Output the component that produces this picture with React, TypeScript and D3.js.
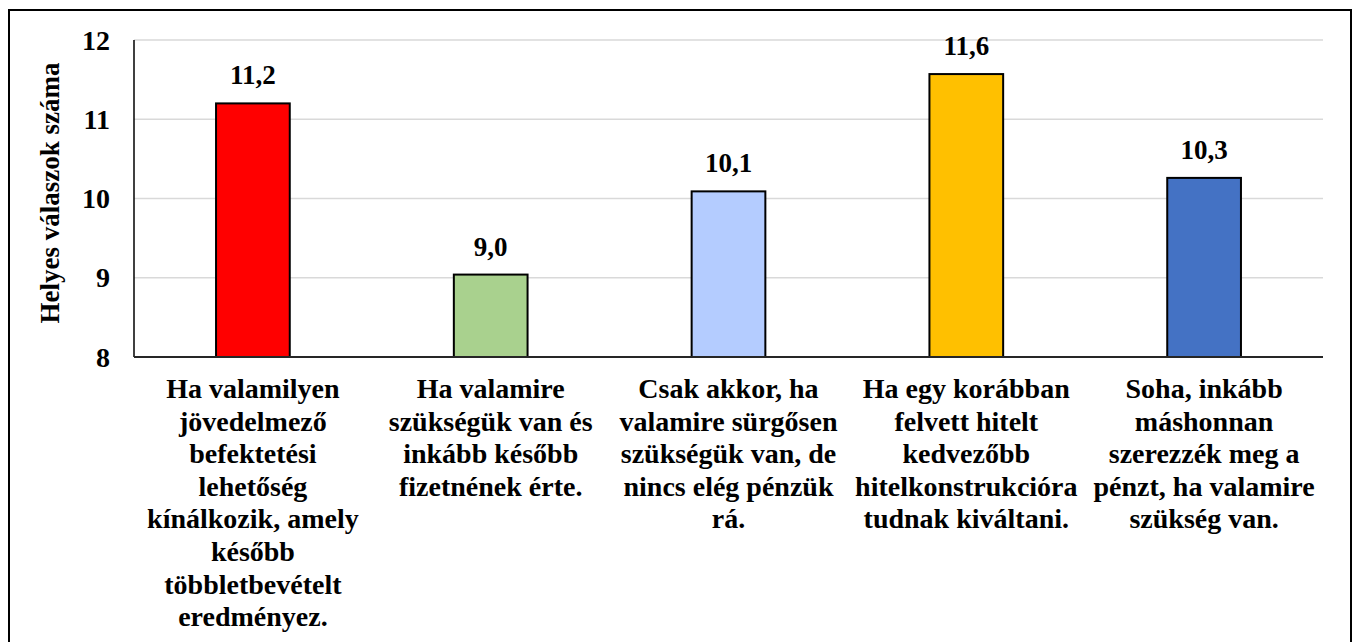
import React from "react";
import * as d3 from "d3";

const categories: string[][] = [
  ["Ha valamilyen", "jövedelmező", "befektetési", "lehetőség", "kínálkozik, amely", "később", "többletbevételt", "eredményez."],
  ["Ha valamire", "szükségük van és", "inkább később", "fizetnének érte."],
  ["Csak akkor, ha", "valamire sürgősen", "szükségük van, de", "nincs elég pénzük", "rá."],
  ["Ha egy korábban", "felvett hitelt", "kedvezőbb", "hitelkonstrukcióra", "tudnak kiváltani."],
  ["Soha, inkább", "máshonnan", "szerezzék meg a", "pénzt, ha valamire", "szükség van."],
];
const values: number[] = [11.2, 9.04, 10.09, 11.57, 10.26];
const valueLabels: string[] = ["11,2", "9,0", "10,1", "11,6", "10,3"];
const colors: string[] = ["#FF0000", "#A9D18E", "#B4CCFF", "#FFC000", "#4472C4"];
const yTicks: number[] = [8, 9, 10, 11, 12];
const yTitle = "Helyes válaszok száma";

const FAM = "Liberation Serif";

export default function App() {
  const left = 134;
  const right = 1323;
  const top = 40;
  const bottom = 357;
  const x = d3.scaleBand<number>().domain(d3.range(values.length)).range([left, right]).paddingInner(0.69).paddingOuter(0.345);
  const y = d3.scaleLinear().domain([8, 12]).range([bottom, top]);
  const lineH = 32.6;

  return (
    <svg width={1357} height={642} style={{ position: "absolute", left: 0, top: 0, background: "#fff", fontFamily: FAM, fontWeight: 700 }}>
      <rect x={9} y={10} width={1342} height={645} fill="#fff" stroke="#000" strokeWidth={2} />
      {yTicks.filter((t) => t > 8).map((t) => (
        <line key={"g" + t} x1={left} x2={right} y1={y(t)} y2={y(t)} stroke="#d9d9d9" strokeWidth={1.5} />
      ))}
      {yTicks.map((t) => (
        <text key={"t" + t} x={110} y={y(t) + 9.5} textAnchor="end"
          style={{ fontFamily: FAM, fontWeight: 700, fontSize: 28 }}>{t}</text>
      ))}
      <text transform={`translate(59,193) rotate(-90)`} textAnchor="middle"
        style={{ fontFamily: FAM, fontWeight: 700, fontSize: 27 }}>{yTitle}</text>
      {values.map((v, i) => (
        <g key={"b" + i}>
          <rect x={x(i)!} y={y(v)} width={x.bandwidth()} height={y(8) - y(v)} fill={colors[i]} stroke="#000" strokeWidth={2} />
          <text x={x(i)! + x.bandwidth() / 2} y={y(v) - 19} textAnchor="middle"
            style={{ fontFamily: FAM, fontWeight: 700, fontSize: 27 }}>{valueLabels[i]}</text>
        </g>
      ))}
      <line x1={left} x2={left} y1={top} y2={bottom} stroke="#000" strokeWidth={1.5} />
      <line x1={left} x2={right} y1={bottom} y2={bottom} stroke="#262626" strokeWidth={2} />
      {categories.map((lines, i) => (
        <text key={"c" + i} textAnchor="middle" style={{ fontFamily: FAM, fontWeight: 700, fontSize: 28 }}>
          {lines.map((ln, j) => (
            <tspan key={j} x={x(i)! + x.bandwidth() / 2} y={398 + j * lineH}>{ln}</tspan>
          ))}
        </text>
      ))}
    </svg>
  );
}
